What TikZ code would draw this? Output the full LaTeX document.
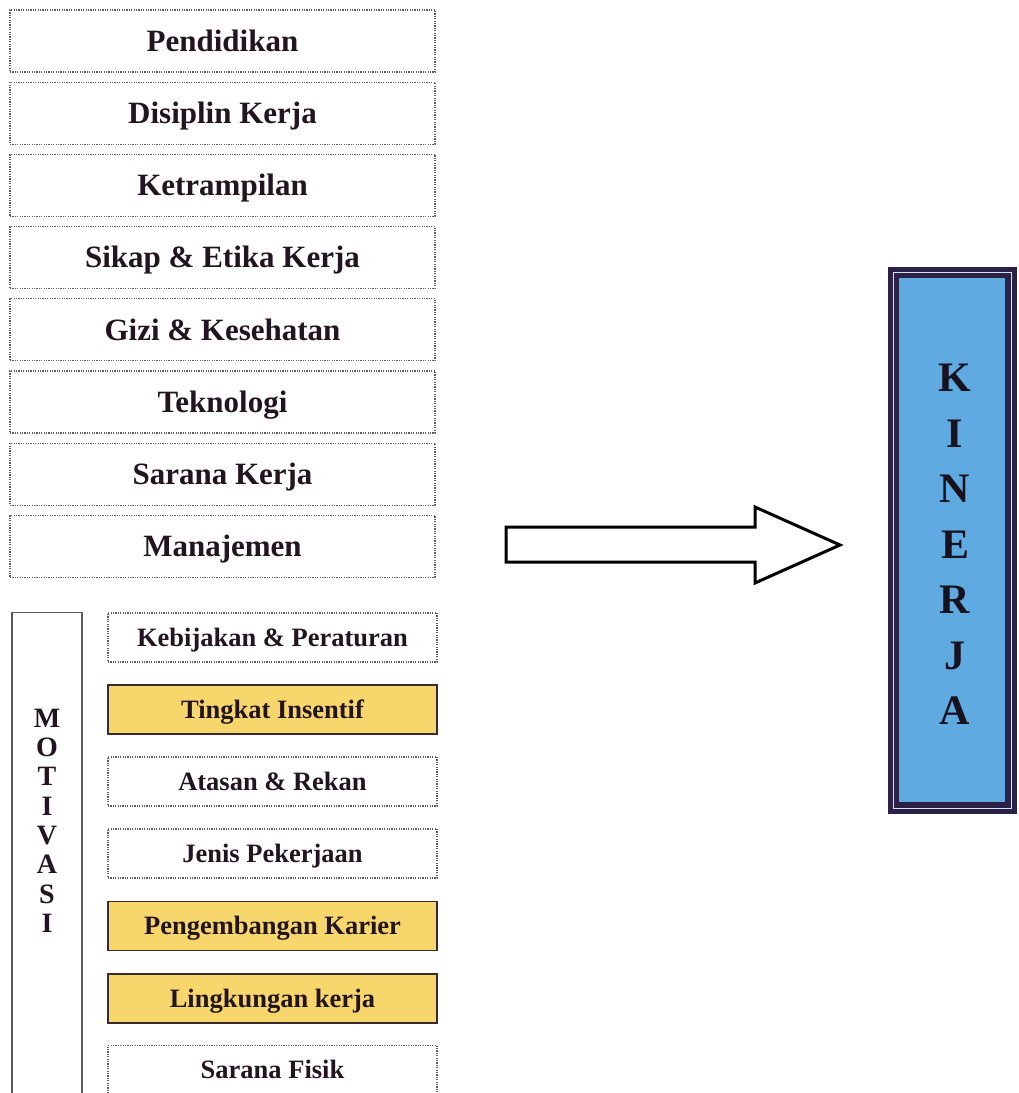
\documentclass[tikz,border=0pt]{standalone}
\usepackage{fontspec}
\setmainfont{Liberation Serif}
\definecolor{txt}{HTML}{231421}
\definecolor{dotc}{HTML}{5E5A60}
\definecolor{yfill}{HTML}{F7D66B}
\definecolor{ybord}{HTML}{3A2A2E}
\definecolor{kblue}{HTML}{60AAE2}
\definecolor{kdark}{HTML}{2B2045}
\definecolor{ktext}{HTML}{18121F}
\tikzset{
  dotbox/.style={draw=dotc, line width=1.2pt, dash pattern=on 1.2pt off 1.2pt, inner sep=0pt, text=txt},
  topbox/.style={dotbox, minimum width=425pt, minimum height=62pt,
     font=\bfseries\fontsize{31}{31}\selectfont, text height=20.5pt, text depth=0pt},
  subbox/.style={dotbox, minimum width=329pt, minimum height=49pt,
     font=\bfseries\fontsize{26.5}{26.5}\selectfont, text height=17.5pt, text depth=0pt},
  yelbox/.style={subbox, solid, draw=ybord, line width=1.6pt, fill=yfill},
  motletter/.style={inner sep=0pt, text=txt, font=\bfseries\fontsize{28}{28}\selectfont, text height=18.5pt, text depth=0pt},
  kinletter/.style={inner sep=0pt, text=ktext, font=\bfseries\fontsize{42}{42}\selectfont, text height=27.8pt, text depth=0pt},
  bigarrow/.style={draw=black, line width=3pt, line join=miter, fill=white},
}
\begin{document}
\begin{tikzpicture}[x=1pt,y=-1pt]
\path[use as bounding box] (0,0) rectangle (1019,1093);
\clip (0,0) rectangle (1019,1093);
\fill[white] (0,0) rectangle (1019,1093);
% top factor boxes
\foreach \t [count=\i from 0] in {Pendidikan,Disiplin Kerja,Ketrampilan,Sikap \& Etika Kerja,Gizi \& Kesehatan,Teknologi,Sarana Kerja,Manajemen}
  \node[topbox] (top\i) at (222.5,41+72.2*\i) {\t};
% motivasi frame
\node[draw=dotc, line width=1.2pt, minimum width=70pt, minimum height=520pt, inner sep=0pt, anchor=north] (motiv) at (47,612) {};
\foreach \l [count=\i from 0] in {M,O,T,I,V,A,S,I}
  \node[motletter] (mot\i) at (47,718+29.3*\i) {\l};
% motivasi sub boxes
\node[subbox] (s0) at (272.5,637.5) {Kebijakan \& Peraturan};
\node[yelbox] (s1) at (272.5,709.5) {Tingkat Insentif};
\node[subbox] (s2) at (272.5,781.5) {Atasan \& Rekan};
\node[subbox] (s3) at (272.5,853.5) {Jenis Pekerjaan};
\node[yelbox] (s4) at (272.5,926) {Pengembangan Karier};
\node[yelbox] (s5) at (272.5,998.5) {Lingkungan kerja};
\node[subbox] (s6) at (272.5,1070) {Sarana Fisik};
% big arrow
\coordinate (arrL) at (506,544.5);
\coordinate (arrT) at (840,545);
\draw[bigarrow] (506,527) -- (755,527) -- (755,507) -- (arrT) -- (755,583) -- (755,562) -- (506,562) -- cycle;
% KINERJA box
\node[fill=kblue, draw=kdark, line width=9pt, minimum width=120pt, minimum height=538pt, inner sep=0pt] (kin) at (952,540) {};
\draw[kdark, line width=2.5pt] ([shift={(10pt,-10pt)}]kin.north west) rectangle ([shift={(-10pt,10pt)}]kin.south east);
\draw[white!70!kblue, line width=0.8pt] ([shift={(5.5pt,-5.5pt)}]kin.north west) rectangle ([shift={(-5.5pt,5.5pt)}]kin.south east);
\foreach \l [count=\i from 0] in {K,I,N,E,R,J,A}
  \node[kinletter] (kin\i) at (955,378+55.5*\i) {\l};
\end{tikzpicture}
\end{document}
